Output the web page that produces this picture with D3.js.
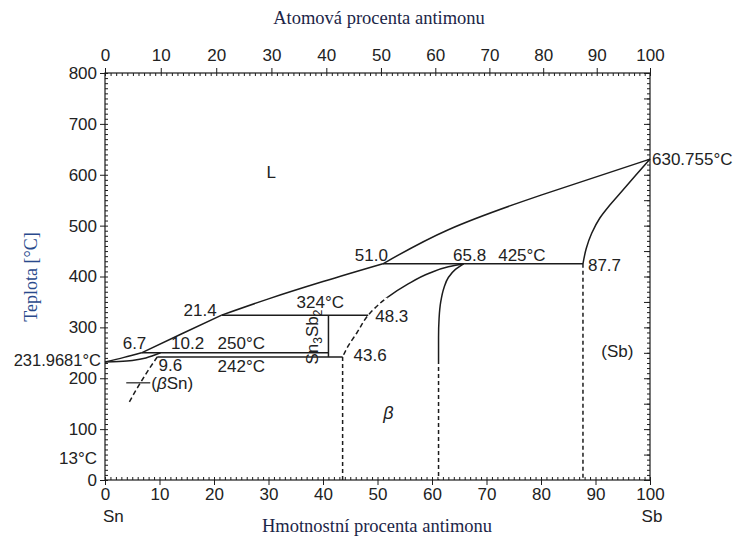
<!DOCTYPE html>
<html>
<head>
<meta charset="utf-8">
<script src="https://cdn.jsdelivr.net/npm/d3@7"></script>
<style>
  html, body { margin: 0; background: #fff; }
  svg { display: block; }
</style>
</head>
<body>
<svg id="chart" width="741" height="538"></svg>
<script>
// ---- Sn–Sb phase diagram data (composition in wt.% Sb, temperature in °C) ----
const wtTicks = [0, 10, 20, 30, 40, 50, 60, 70, 80, 90, 100];
const atTicks = [0, 10, 20, 30, 40, 50, 60, 70, 80, 90, 100];
const tempTicks = [0, 100, 200, 300, 400, 500, 600, 700, 800];
const massSn = 118.71;
const massSb = 121.76;

const tMeltSn = 231.9681;
const tMeltSb = 630.755;
const tAlphaBetaSn = 13;

// liquidus, split at its breaks (6.7, 21.4 and 51.0 wt.%)
const liquidusParts = [
  [[0, 231.9681], [3.5, 241], [6.7, 250]],
  [[6.7, 250], [14, 287], [21.4, 324]],
  [[21.4, 324], [30, 356], [40, 390], [51.0, 425]],
  [[51.0, 425], [63, 492], [80, 560], [100, 630.755]]
];
// solidus of (βSn)
const solidusSn = [[0, 231.9681], [2.5, 232.8], [5, 235], [7.5, 240], [10.2, 250]];
// solvus of (βSn)
const solvusSn = [[9.6, 242], [8.2, 220], [6.9, 198], [5.6, 175], [4.3, 150]];
// β phase, Sn-rich boundary (solid above ~358 °C, dashed below)
const betaLeft = [[65.8, 425], [63, 419], [59.6, 407], [55.4, 384], [51.7, 358], [48.3, 324], [46.2, 289], [44.6, 263], [43.6, 242]];
const betaLeftDashBelow = 358;
// β phase, Sb-rich boundary
const betaRight = [[65.8, 425], [64.3, 414], [63, 398], [62.2, 378], [61.6, 350], [61.3, 318], [61.2, 280], [61.2, 236]];
// solidus of (Sb)
const solidusSb = [[87.7, 425], [88.3, 455], [89.3, 485], [90.8, 515], [92.6, 540], [94.8, 567], [97.3, 598], [100, 630.755]];
// invariant isotherms: [temperature, from wt.%, to wt.%]
const isotherms = [[425, 51.0, 87.7], [324, 21.4, 48.3], [250, 6.7, 41.0], [242, 9.6, 43.6]];
// Sn3Sb2 line compound: [wt.%, lower T, upper T]
const sn3sb2 = [41.0, 242, 324];
// boundaries continued downward as dashed verticals: [wt.%, upper T]
const lowTempBoundaries = [[43.6, 242], [61.2, 236], [87.7, 425]];
// (βSn) leader line: [from wt.%, to wt.%, T]
const betaSnLeader = [3.9, 8.3, 191];

// ---- layout ----
const svg = d3.select("#chart");
const x = d3.scaleLinear().domain([0, 100]).range([105, 650]);
const y = d3.scaleLinear().domain([0, 800]).range([480, 73]);

// atomic % -> weight % Sb
const atToWt = a => a * massSb / (a * massSb + (100 - a) * massSn) * 100;
const atSamples = d3.range(0, 101, 1);
const xAt = d3.scaleLinear().domain(atSamples).range(atSamples.map(a => x(atToWt(a))));

const ink = "#1c1c1c";
const sans = "'Liberation Sans', Arial, sans-serif";
const serif = "'Liberation Serif', 'Times New Roman', serif";

function styleAxis(g, size) {
  g.attr("font-family", sans).attr("font-size", size);
  g.selectAll("path.domain").remove();
  g.selectAll("line").attr("stroke", ink).attr("stroke-width", 1);
  g.selectAll("text").attr("fill", "#222");
}

// frame
svg.append("rect")
  .attr("x", x(0)).attr("y", y(800))
  .attr("width", x(100) - x(0)).attr("height", y(0) - y(800))
  .attr("fill", "none").attr("stroke", ink).attr("stroke-width", 1.2);

// minor ticks (inward)
svg.append("g").attr("transform", `translate(${x(0)},0)`)
  .call(d3.axisRight(y).tickValues(d3.range(0, 801, 10)).tickSize(3).tickFormat(""))
  .call(g => styleAxis(g, 0));
svg.append("g").attr("transform", `translate(${x(100)},0)`)
  .call(d3.axisLeft(y).tickValues(d3.range(0, 801, 10)).tickSize(3).tickFormat(""))
  .call(g => styleAxis(g, 0));
svg.append("g").attr("transform", `translate(${x(100)},0)`)
  .call(d3.axisLeft(y).tickValues(d3.range(0, 801, 50)).tickSize(6).tickFormat(""))
  .call(g => styleAxis(g, 0));
svg.append("g").attr("transform", `translate(0,${y(0)})`)
  .call(d3.axisTop(x).tickValues(d3.range(0, 101, 1)).tickSize(3).tickFormat(""))
  .call(g => styleAxis(g, 0));
svg.append("g").attr("transform", `translate(0,${y(800)})`)
  .call(d3.axisBottom(xAt).tickValues(d3.range(0, 101, 1)).tickSize(3).tickFormat(""))
  .call(g => styleAxis(g, 0));

// major ticks and labels
svg.append("g").attr("transform", `translate(${x(0)},0)`)
  .call(d3.axisLeft(y).tickValues(tempTicks).tickSize(5).tickPadding(3))
  .call(g => styleAxis(g, 17));
svg.append("g").attr("transform", `translate(0,${y(0)})`)
  .call(d3.axisBottom(x).tickValues(wtTicks).tickSize(5).tickPadding(3))
  .call(g => styleAxis(g, 17));
svg.append("g").attr("transform", `translate(0,${y(800)})`)
  .call(d3.axisTop(xAt).tickValues(atTicks).tickSize(5).tickPadding(7))
  .call(g => styleAxis(g, 17));

// axis titles
svg.append("text").attr("x", 379).attr("y", 24)
  .attr("text-anchor", "middle").attr("font-family", serif).attr("font-size", 18.5)
  .attr("fill", "#1b2547").text("Atomová procenta antimonu");
svg.append("text").attr("x", 377).attr("y", 532)
  .attr("text-anchor", "middle").attr("font-family", serif).attr("font-size", 18.5)
  .attr("fill", "#1b2547").text("Hmotnostní procenta antimonu");
svg.append("text").attr("transform", "translate(37,277) rotate(-90)")
  .attr("text-anchor", "middle").attr("font-family", serif).attr("font-size", 18)
  .attr("fill", "#2a4a8c").text("Teplota [°C]");

// element names and special temperatures on the axes
const axisText = (px, py, txt, anchor, size) => svg.append("text")
  .attr("x", px).attr("y", py).attr("text-anchor", anchor || "start")
  .attr("font-family", sans).attr("font-size", size || 17).attr("fill", "#222").text(txt);
axisText(x(0) - 2, 522, "Sn", "start");
axisText(x(100) + 2, 522, "Sb", "middle");
axisText(x(0) - 4, y(tMeltSn) + 4, `${tMeltSn}°C`, "end", 16.5);
axisText(x(0) - 8, y(tAlphaBetaSn) - 9, `${tAlphaBetaSn}°C`, "end");

// ---- phase boundaries ----
const lineX = d3.line().x(d => x(d[0])).y(d => y(d[1])).curve(d3.curveMonotoneX);
const lineN = d3.line().x(d => x(d[0])).y(d => y(d[1])).curve(d3.curveNatural);
const lineY = d3.line().x(d => x(d[0])).y(d => y(d[1])).curve(d3.curveMonotoneY);
const plot = svg.append("g").attr("fill", "none").attr("stroke", ink).attr("stroke-width", 1.5);

// clip regions splitting the β boundary into its solid and dashed parts
const defs = svg.append("defs");
defs.append("clipPath").attr("id", "above").append("rect")
  .attr("x", 0).attr("y", 0).attr("width", 741).attr("height", y(betaLeftDashBelow));
defs.append("clipPath").attr("id", "below").append("rect")
  .attr("x", 0).attr("y", y(betaLeftDashBelow)).attr("width", 741).attr("height", 538);

liquidusParts.forEach((pts, i) =>
  plot.append("path").attr("d", (i === liquidusParts.length - 1 ? lineN : lineX)(pts)));
plot.append("path").attr("d", lineX(solidusSn));
plot.append("path").attr("d", lineY(betaRight));
plot.append("path").attr("d", lineY(solidusSb));
plot.append("path").attr("d", lineY(betaLeft)).attr("clip-path", "url(#above)");
plot.append("path").attr("d", lineY(betaLeft)).attr("clip-path", "url(#below)")
  .attr("stroke-dasharray", "5,3");
plot.append("path").attr("d", lineY(solvusSn)).attr("stroke-dasharray", "5,3");

isotherms.forEach(([t, a, b]) =>
  plot.append("line").attr("x1", x(a)).attr("x2", x(b)).attr("y1", y(t)).attr("y2", y(t)));
plot.append("line").attr("x1", x(sn3sb2[0])).attr("x2", x(sn3sb2[0]))
  .attr("y1", y(sn3sb2[1])).attr("y2", y(sn3sb2[2]));
lowTempBoundaries.forEach(([c, t]) =>
  plot.append("line").attr("x1", x(c)).attr("x2", x(c)).attr("y1", y(t)).attr("y2", y(0))
    .attr("stroke-dasharray", "4,3"));
plot.append("line").attr("x1", x(betaSnLeader[0])).attr("x2", x(betaSnLeader[1]))
  .attr("y1", y(betaSnLeader[2])).attr("y2", y(betaSnLeader[2])).attr("stroke-width", 1.2);

// ---- annotations: composition / temperature labels anchored to their points ----
const labels = [
  { text: "51.0", at: [51.0, 425], dx: 5, dy: -3, anchor: "end" },
  { text: "65.8", at: [65.8, 425], dx: 6, dy: -3, anchor: "middle" },
  { text: "425°C", at: [76.5, 425], dx: 0, dy: -3, anchor: "middle" },
  { text: "87.7", at: [87.7, 425], dx: 5, dy: 7, anchor: "start" },
  { text: "630.755°C", at: [100, tMeltSb], dx: 2, dy: 6, anchor: "start" },
  { text: "21.4", at: [21.4, 324], dx: -5, dy: 1, anchor: "end" },
  { text: "324°C", at: [39.5, 324], dx: 0, dy: -7, anchor: "middle" },
  { text: "48.3", at: [48.3, 324], dx: 7, dy: 7, anchor: "start" },
  { text: "43.6", at: [43.6, 242], dx: 11, dy: 4, anchor: "start" },
  { text: "6.7", at: [6.7, 250], dx: -7, dy: -4, anchor: "middle" },
  { text: "10.2", at: [10.2, 250], dx: 27, dy: -4, anchor: "middle" },
  { text: "250°C", at: [25, 250], dx: 0, dy: -4, anchor: "middle" },
  { text: "9.6", at: [9.6, 242], dx: 13, dy: 14, anchor: "middle" },
  { text: "242°C", at: [25, 242], dx: 0, dy: 15, anchor: "middle" },
  { text: "L", at: [30.5, 605], dx: 0, dy: 6, anchor: "middle" },
  { text: "(Sb)", at: [94, 250], dx: 0, dy: 4, anchor: "middle" }
];
svg.append("g").attr("font-family", sans).attr("font-size", 17).attr("fill", "#222")
  .selectAll("text").data(labels).join("text")
  .attr("x", d => x(d.at[0]) + d.dx).attr("y", d => y(d.at[1]) + d.dy)
  .attr("text-anchor", d => d.anchor).text(d => d.text);

// (βSn) label at the end of its leader
const bsn = svg.append("text").attr("x", x(betaSnLeader[1]) + 1).attr("y", y(betaSnLeader[2]) + 6)
  .attr("font-family", sans).attr("font-size", 17).attr("fill", "#222");
bsn.append("tspan").text("(");
bsn.append("tspan").attr("font-style", "italic").text("β");
bsn.append("tspan").text("Sn)");

// β region label
svg.append("text").attr("x", x(52)).attr("y", y(120))
  .attr("text-anchor", "middle").attr("font-family", sans).attr("font-size", 18)
  .attr("font-style", "italic").attr("fill", "#222").text("β");

// Sn3Sb2 compound, written vertically beside its line
const comp = svg.append("text")
  .attr("transform", `translate(${x(sn3sb2[0]) - 10},${y((sn3sb2[1] + sn3sb2[2]) / 2) + 1}) rotate(-90)`)
  .attr("text-anchor", "middle").attr("font-family", sans).attr("font-size", 17).attr("fill", "#222");
comp.append("tspan").text("Sn");
comp.append("tspan").attr("font-size", 12).attr("dy", 4).text("3");
comp.append("tspan").attr("dy", -4).text("Sb");
comp.append("tspan").attr("font-size", 12).attr("dy", 4).text("2");
</script>
</body>
</html>
